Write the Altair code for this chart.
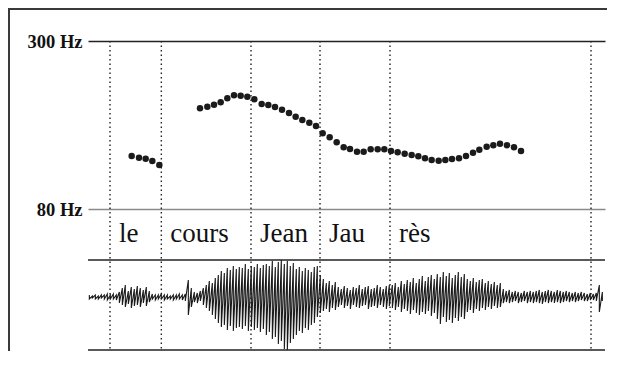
import altair as alt
import pandas as pd

# ---- pitch track (time in ms, F0 in Hz) ----
seg1_t = [131, 153, 173, 193, 214]
seg1_hz = [121.4, 119.8, 118.8, 116.7, 113.1]

seg2_t = [336, 358, 378, 398, 418, 438, 458, 478, 499, 521, 541, 561, 582, 603, 623, 643,
          664, 684, 704, 725, 746, 767, 786, 807, 827, 848, 869, 889, 909, 929, 950, 971,
          991, 1011, 1031, 1052, 1072, 1092, 1113, 1134, 1155, 1174, 1196, 1216, 1236, 1257,
          1278, 1299]
seg2_hz = [176.7, 178.9, 181.8, 185.2, 191.1, 195.7, 195.1, 193.6, 189.6, 182.8, 181.3, 178.5,
           174.7, 170.3, 165.4, 161.2, 157.8, 153.7, 145.1, 140.6, 135.2, 130.0, 128.3, 125.6,
           125.6, 128.0, 128.0, 128.0, 126.3, 125.0, 123.6, 122.4, 121.1, 119.2, 117.6, 117.0,
           117.6, 118.6, 119.2, 121.4, 124.6, 127.6, 130.6, 132.1, 133.7, 132.1, 130.0, 126.3]

# ---- syllable boundaries and labels ----
bound_t = [66, 220, 489, 696, 906, 1509]
word_t = [66, 220, 489, 696, 906]
words = ["le", "cours", "Jean", "Jau", "rès"]

# ---- waveform envelope (one column every 9 ms), upper and lower excursions ----
WAVE_STEP = 9
wave_up = [2, 1, 2, 1, 2, 2, 3, 2, 3, 2,
           5, 9, 12, 6, 10, 8, 11, 9, 7, 10, 6,
           3, 2, 2, 3, 2, 2, 1, 2, 2, 3, 2, 3,
           17, 9, 5, 4, 6,
           9, 12, 16, 14, 19,
           22, 26, 24, 29, 27, 31, 28, 30,
           29, 33, 28, 31, 30, 33, 29, 32,
           33, 31, 36, 30, 35, 37, 33,
           36, 31, 34, 28, 30, 26, 29, 27, 25, 30,
           31, 22,
           18, 14, 16, 12, 15,
           10, 8, 11, 9, 7, 10, 9, 12, 8, 10, 11, 8, 9, 12, 10, 8, 11, 12,
           12, 14, 10, 16, 13, 17, 15, 19, 14, 18, 21, 16, 20, 22, 18,
           23, 20, 25, 21, 24, 19, 22, 25, 20, 23,
           18, 16, 19, 15, 17, 18, 14, 16, 13, 15, 12, 14,
           8, 6, 7, 5, 6, 5, 4, 6, 5, 6, 5, 6, 7, 5, 6, 7, 6, 5, 7, 6, 5, 6, 5, 4, 5, 4, 5, 4, 3, 4,
           3, 4, 12, 5]
wave_lo = [-2, -1, -2, -2, -1, -2, -3, -2, -2, -3,
           -6, -8, -10, -7, -11, -9, -8, -10, -6, -9, -5,
           -2, -3, -2, -2, -3, -2, -2, -3, -2, -2, -3, -4,
           -18, -10, -5, -6, -4,
           -8, -11, -14, -18, -22,
           -26, -30, -28, -33, -29, -34, -31, -30,
           -32, -29, -34, -30, -33, -31, -35, -32,
           -38, -35, -42, -40, -47, -44, -52,
           -53, -46, -42, -38, -34, -36, -31, -33, -28, -26,
           -20, -16,
           -14, -12, -15, -11, -13,
           -10, -8, -11, -9, -12, -8, -10, -11, -9, -8, -12, -10, -9, -11, -8, -10, -12, -9,
           -11, -13, -10, -15, -12, -14, -17, -13, -16, -18, -15, -17, -14, -19, -16,
           -22, -27, -20, -25, -23, -26, -21, -24, -20, -22,
           -15, -13, -16, -12, -14, -11, -13, -10, -12, -9, -11, -10,
           -6, -5, -6, -5, -4, -6, -5, -4, -6, -5, -6, -5, -6, -7, -5, -6, -5, -6, -5, -6, -5, -4, -5, -4, -5, -4, -3, -4, -4, -3,
           -3, -4, -15, -4]
box_levels = [37, -53]

SERIF = "Liberation Serif"

pitch_df = pd.DataFrame({"t": seg1_t + seg2_t, "hz": seg1_hz + seg2_hz})
rows = []
for i, (u, l) in enumerate(zip(wave_up, wave_lo)):
    t = 4 + WAVE_STEP * i
    rows.append({"t": t, "a": u, "o": 2 * i})
    rows.append({"t": t, "a": l, "o": 2 * i + 1})
wave_df = pd.DataFrame(rows)

xscale = alt.Scale(domain=[0, 1551], nice=False, zero=False)
xenc = alt.X("t:Q", scale=xscale, axis=None)

pitch_scale = alt.Scale(type="log", domain=[80, 300], range=[168, 0], nice=False)
wave_scale = alt.Scale(domain=[-53, 37], range=[309, 219], nice=False, zero=False)

points = alt.Chart(pitch_df).mark_circle(size=42, color="#1b1b1b", opacity=1).encode(
    x=xenc,
    y=alt.Y("hz:Q", scale=pitch_scale,
            axis=alt.Axis(values=[80, 300], labelExpr="datum.value + ' Hz'", title=None,
                          domain=False, ticks=False, grid=True,
                          gridColor={"condition": {"test": "datum.value == 80", "value": "#8a8a8a"},
                                     "value": "#222222"},
                          gridWidth=1.6,
                          labelFont=SERIF, labelFontWeight="bold", labelFontSize=18.5,
                          labelColor="#111111", labelPadding=6)),
)

wave = alt.Chart(wave_df).mark_line(color="#1a1a1a", strokeWidth=1.1).encode(
    x=xenc,
    y=alt.Y("a:Q", scale=wave_scale, axis=None),
    order="o:Q",
)
box = alt.Chart(pd.DataFrame({"a": box_levels})).mark_rule(color="#222222", strokeWidth=1.5).encode(
    y=alt.Y("a:Q", scale=wave_scale, axis=None)
)
wave_layer = alt.layer(box, wave)

bounds = alt.Chart(pd.DataFrame({"t": bound_t})).mark_rule(
    strokeDash=[1.5, 3], strokeWidth=1.4, color="#222222"
).encode(x=xenc)

labels = alt.Chart(pd.DataFrame({"t": word_t, "w": words})).mark_text(
    align="left", baseline="alphabetic", dx=9, font=SERIF, fontSize=27, color="#111111"
).encode(x=xenc, y=alt.value(201), text="w:N")

frame_df = pd.DataFrame({"k": [0]})
frame_left = alt.Chart(frame_df).mark_rule(color="#3a3a3a", strokeWidth=2).encode(
    x=alt.value(-79), y=alt.value(-32), y2=alt.value(310)
)
frame_top = alt.Chart(frame_df).mark_rule(color="#3a3a3a", strokeWidth=2).encode(
    x=alt.value(-80), x2=alt.value(519), y=alt.value(-32)
)

chart = alt.layer(frame_left, frame_top, bounds, wave_layer, points, labels).resolve_scale(
    y="independent"
).properties(
    width=517, height=309,
    autosize=alt.AutoSizeParams(type="none"),
    padding={"left": 80, "top": 33, "right": 3, "bottom": 1},
    background="white",
).configure_view(stroke=None)

chart.save("out.html", embed_options={"renderer": "svg", "actions": False})
